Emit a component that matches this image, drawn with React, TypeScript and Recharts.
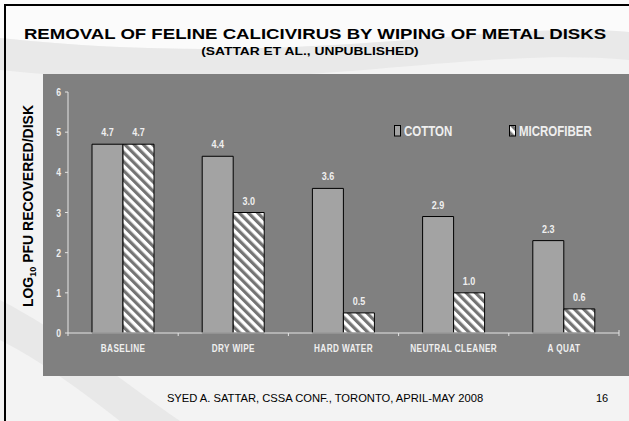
import React from 'react';
import { BarChart, Bar, XAxis, YAxis, LabelList, Legend } from 'recharts';

// values
const categories = ['BASELINE', 'DRY WIPE', 'HARD WATER', 'NEUTRAL CLEANER', 'A QUAT'];
const cottonValues = [4.7, 4.4, 3.6, 2.9, 2.3];
const microfiberValues = [4.7, 3.0, 0.5, 1.0, 0.6];
const yTicks = [0, 1, 2, 3, 4, 5, 6];

const data = categories.map((name, i) => ({
  name,
  cotton: cottonValues[i],
  microfiber: microfiberValues[i],
}));

const ARIAL = '"Liberation Sans", Arial, sans-serif';
const NARROW_SCALE = 0.82; // arial bold squeezed to look like arial narrow
const AXIS_COLOR = '#e4e4e4';
const LABEL_COLOR = '#efefef';
const PANEL = '#808080';

const CategoryTick = (props: any) => {
  const { x, y, payload, index } = props;
  const half = payload && typeof payload.offset === 'number' ? payload.offset : 0;
  const isLast = index === categories.length - 1;
  return (
    <g>
      {half > 0 && <line x1={x - half} x2={x - half} y1={y} y2={y + 3} stroke={AXIS_COLOR} />}
      {isLast && half > 0 && <line x1={x + half} x2={x + half} y1={y - 3} y2={y + 3} stroke={AXIS_COLOR} />}
      <text
        transform={`translate(${x}, ${y + 19}) scale(${NARROW_SCALE}, 1)`}
        textAnchor="middle"
        fill={LABEL_COLOR}
        fontFamily={ARIAL}
        fontWeight="bold"
        fontSize={10}
        letterSpacing={0.5}
      >
        {payload.value}
      </text>
    </g>
  );
};

const ValueTick = (props: any) => {
  const { x, y, payload } = props;
  return (
    <text
      transform={`translate(${x}, ${y + 4}) scale(${NARROW_SCALE}, 1)`}
      textAnchor="end"
      fill={LABEL_COLOR}
      fontFamily={ARIAL}
      fontWeight="bold"
      fontSize={10.5}
    >
      {payload.value}
    </text>
  );
};

const BarValue = (props: any) => {
  const { x, y, width, value } = props;
  return (
    <text
      transform={`translate(${x + width / 2}, ${y - 8}) scale(${NARROW_SCALE}, 1)`}
      textAnchor="middle"
      fill={LABEL_COLOR}
      fontFamily={ARIAL}
      fontWeight="bold"
      fontSize={11}
    >
      {Number(value).toFixed(1)}
    </text>
  );
};

const renderLegend = (props: any) => {
  const { payload } = props;
  return (
    <div style={{ display: 'flex' }}>
      {(payload || []).map((entry: any) => (
        <div key={entry.value} style={{ width: 115, display: 'flex', alignItems: 'center' }}>
          <svg width={7} height={12} style={{ marginRight: 3 }}>
            <rect x={0.5} y={0.5} width={6} height={10.5} fill={entry.color} stroke="#000" />
          </svg>
          <span
            style={{
              display: 'inline-block',
              fontFamily: ARIAL,
              fontWeight: 'bold',
              fontSize: 14,
              color: LABEL_COLOR,
              lineHeight: '14px',
              transform: `scaleX(${NARROW_SCALE})`,
              transformOrigin: 'left center',
              whiteSpace: 'nowrap',
            }}
          >
            {entry.value}
          </span>
        </div>
      ))}
    </div>
  );
};

export default function App() {
  return (
    <div
      style={{
        position: 'absolute',
        left: 0,
        top: 0,
        width: 629,
        height: 421,
        overflow: 'hidden',
        background: '#f3f3f3',
        fontFamily: ARIAL,
      }}
    >
      {/* slide background swooshes */}
      <svg width={629} height={421} style={{ position: 'absolute', left: 0, top: 0 }}>
        <path d="M0 0 L629 0 L629 32 C 480 20, 300 70, 0 38 Z" fill="#fbfbfb" />
        <path d="M0 38 C 300 70, 480 20, 629 32 L629 60 C 460 45, 280 100, 0 70 Z" fill="#e9e9e9" />
        <path d="M0 300 C 60 330, 120 380, 180 421 L 120 421 C 80 390, 40 360, 0 340 Z" fill="#e8e8e8" />
      </svg>

      {/* slide frame */}
      <div
        style={{
          position: 'absolute',
          left: 4,
          top: 4,
          width: 650,
          height: 440,
          borderLeft: '2.5px solid #000',
          borderTop: '2.5px solid #000',
        }}
      />

      <div
        style={{
          position: 'absolute',
          left: 15,
          top: 26,
          width: 600,
          textAlign: 'center',
          fontSize: 15.5,
          lineHeight: '16px',
          fontWeight: 'bold',
          color: '#000',
          transform: 'scaleX(1.2)',
          whiteSpace: 'nowrap',
        }}
      >
        REMOVAL OF FELINE CALICIVIRUS BY WIPING OF METAL DISKS
      </div>
      <div
        style={{
          position: 'absolute',
          left: 10,
          top: 45,
          width: 600,
          textAlign: 'center',
          fontSize: 11.5,
          lineHeight: '12px',
          fontWeight: 'bold',
          color: '#000',
          transform: 'scaleX(1.2)',
          whiteSpace: 'nowrap',
        }}
      >
        (SATTAR ET AL., UNPUBLISHED)
      </div>

      {/* y axis title */}
      <div
        style={{
          position: 'absolute',
          left: 28 - 120,
          top: 206 - 8,
          width: 240,
          height: 16,
          lineHeight: '16px',
          textAlign: 'center',
          transform: 'rotate(-90deg)',
          fontSize: 14,
          fontWeight: 'bold',
          color: '#000',
          whiteSpace: 'nowrap',
        }}
      >
        LOG<sub style={{ fontSize: 9, verticalAlign: -3 }}>10</sub> PFU RECOVERED/DISK
      </div>

      {/* chart panel */}
      <div style={{ position: 'absolute', left: 43, top: 74, width: 586, height: 302, background: PANEL }}>
        <BarChart
          width={586}
          height={302}
          data={data}
          margin={{ top: 18, right: 10, left: 0, bottom: 0 }}
          barGap={0}
          barCategoryGap={24}
        >
          <defs>
            <pattern
              id="stripes"
              patternUnits="userSpaceOnUse"
              width={6.5}
              height={6.5}
              patternTransform="rotate(-45)"
            >
              <rect width={6.5} height={6.5} fill="#ffffff" />
              <rect width={3.2} height={6.5} fill="#747474" />
            </pattern>
          </defs>
          <XAxis
            dataKey="name"
            height={43}
            stroke={AXIS_COLOR}
            tickLine={false}
            tickSize={0}
            tickMargin={0}
            interval={0}
            tick={<CategoryTick />}
          />
          <YAxis
            width={25}
            domain={[0, 6]}
            ticks={yTicks}
            stroke={AXIS_COLOR}
            tickSize={3}
            tickMargin={4}
            tick={<ValueTick />}
          />
          <Legend
            layout="horizontal"
            verticalAlign="middle"
            align="center"
            content={renderLegend}
            wrapperStyle={{ left: 351, top: 50, width: 235 }}
          />
          <Bar dataKey="cotton" name="COTTON" fill="#a3a3a3" stroke="#000" strokeWidth={1} isAnimationActive={false}>
            <LabelList dataKey="cotton" content={<BarValue />} />
          </Bar>
          <Bar
            dataKey="microfiber"
            name="MICROFIBER"
            fill="url(#stripes)"
            stroke="#000"
            strokeWidth={1}
            isAnimationActive={false}
          >
            <LabelList dataKey="microfiber" content={<BarValue />} />
          </Bar>
        </BarChart>
      </div>

      {/* footer */}
      <div
        style={{
          position: 'absolute',
          left: 25,
          top: 392,
          width: 600,
          textAlign: 'center',
          fontSize: 11.2,
          lineHeight: '12px',
          color: '#000',
          whiteSpace: 'nowrap',
        }}
      >
        SYED A. SATTAR, CSSA CONF., TORONTO, APRIL-MAY 2008
      </div>
      <div
        style={{
          position: 'absolute',
          left: 596,
          top: 392,
          fontSize: 11,
          lineHeight: '12px',
          color: '#000',
        }}
      >
        16
      </div>
    </div>
  );
}
